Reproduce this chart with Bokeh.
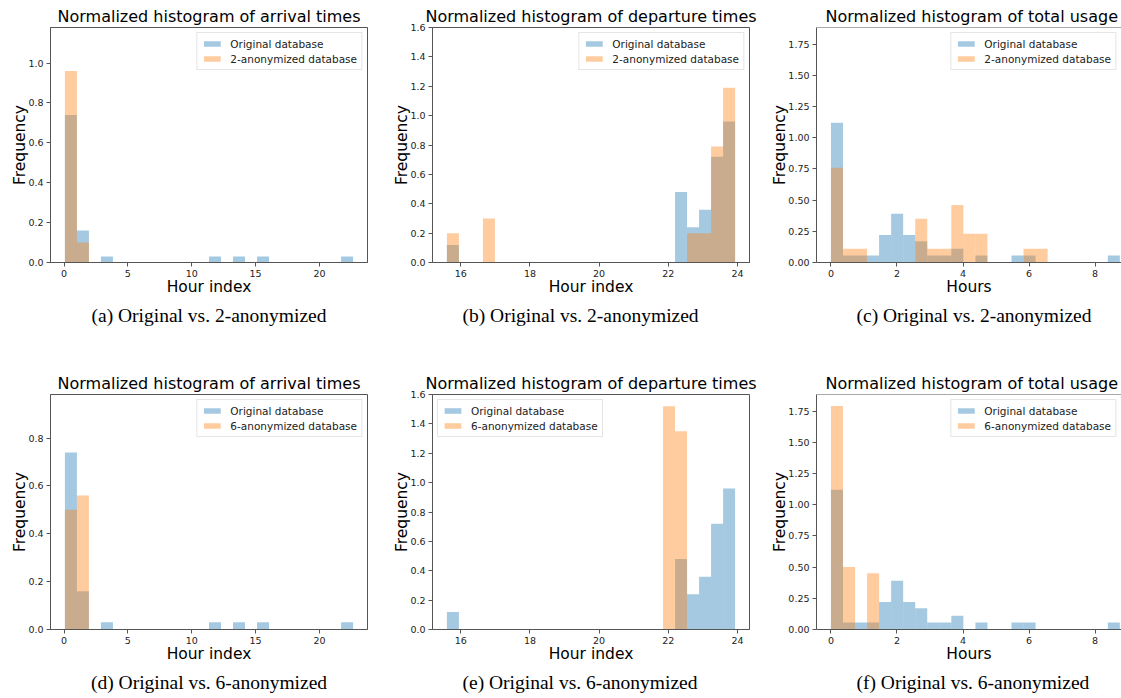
import numpy as np
from bokeh.plotting import figure
from bokeh.layouts import row, column
from bokeh.models import (FixedTicker, PrintfTickFormatter, Title, Legend,
                          LegendItem, Range1d, Span, ColumnDataSource)
from bokeh.embed import file_html
from bokeh.resources import INLINE

# ---------------- data ----------------
N_BINS = 24
arrival_bin_range = (0.07, 22.63)
departure_bin_range = (15.6, 23.93)
usage_bin_range = (0.0, 8.75)

arrival_orig = [0.74, 0.16, 0, 0.03, 0, 0, 0, 0, 0, 0, 0, 0,
                0.03, 0, 0.03, 0, 0.03, 0, 0, 0, 0, 0, 0, 0.03]
arrival_anon2 = [0.96, 0.10, 0, 0, 0, 0, 0, 0, 0, 0, 0, 0,
                 0, 0, 0, 0, 0, 0, 0, 0, 0, 0, 0, 0]
arrival_anon6 = [0.50, 0.56, 0, 0, 0, 0, 0, 0, 0, 0, 0, 0,
                 0, 0, 0, 0, 0, 0, 0, 0, 0, 0, 0, 0]

departure_orig = [0.12, 0, 0, 0, 0, 0, 0, 0, 0, 0, 0, 0,
                  0, 0, 0, 0, 0, 0, 0, 0.48, 0.24, 0.36, 0.72, 0.96]
departure_anon2 = [0.20, 0, 0, 0.30, 0, 0, 0, 0, 0, 0, 0, 0,
                   0, 0, 0, 0, 0, 0, 0, 0, 0.20, 0.20, 0.79, 1.19]
departure_anon6 = [0, 0, 0, 0, 0, 0, 0, 0, 0, 0, 0, 0,
                   0, 0, 0, 0, 0, 0, 1.52, 1.35, 0, 0, 0, 0]

usage_orig = [1.12, 0.056, 0.056, 0.056, 0.22, 0.39, 0.22, 0.17, 0.056, 0.056, 0.11, 0,
              0.056, 0, 0, 0.056, 0.056, 0, 0, 0, 0, 0, 0, 0.056]
usage_anon2 = [0.76, 0.11, 0.11, 0, 0, 0, 0, 0.35, 0.11, 0.11, 0.46, 0.23,
               0.23, 0, 0, 0, 0.11, 0.11, 0, 0, 0, 0, 0, 0]
usage_anon6 = [1.79, 0.50, 0, 0.45, 0, 0, 0, 0, 0, 0, 0, 0,
               0, 0, 0, 0, 0, 0, 0, 0, 0, 0, 0, 0]

arrival_xticks = [0, 5, 10, 15, 20]
departure_xticks = [16, 18, 20, 22, 24]
usage_xticks = [0, 2, 4, 6, 8]

titles = {"arr": "Normalized histogram of arrival times",
          "dep": "Normalized histogram of departure times",
          "use": "Normalized histogram of total usage"}
captions = ["(a) Original vs. 2-anonymized", "(b) Original vs. 2-anonymized",
            "(c) Original vs. 2-anonymized", "(d) Original vs. 6-anonymized",
            "(e) Original vs. 6-anonymized", "(f) Original vs. 6-anonymized"]

# ---------------- styling ----------------
BLUE = "#1f77b4"
ORANGE = "#ff7f0e"
AX = "#555555"
SANS = "DejaVu Sans"
SERIF = "Liberation Serif"


def panel(bin_range, orig, anon, anon_label, title, xlabel, caption,
          x_range, y_range, xticks, yticks, yfmt, width, height,
          b_top, b_bottom, b_right, legend_loc, open_right=False,
          title_offset=None, caption_offset=None):
    edges = np.linspace(bin_range[0], bin_range[1], N_BINS + 1)
    p = figure(width=width, height=height, output_backend="svg",
               toolbar_location=None,
               x_range=Range1d(*x_range), y_range=Range1d(*y_range),
               min_border_left=50, min_border_right=b_right,
               min_border_top=b_top, min_border_bottom=b_bottom)
    p.background_fill_color = "white"
    p.border_fill_color = "white"
    p.xgrid.grid_line_color = None
    p.ygrid.grid_line_color = None

    s1 = ColumnDataSource(dict(left=edges[:-1], right=edges[1:], top=orig))
    s2 = ColumnDataSource(dict(left=edges[:-1], right=edges[1:], top=anon))
    r1 = p.quad(left="left", right="right", top="top", bottom=0, source=s1,
                fill_color=BLUE, fill_alpha=0.4, line_color=None)
    r2 = p.quad(left="left", right="right", top="top", bottom=0, source=s2,
                fill_color=ORANGE, fill_alpha=0.4, line_color=None)

    # title
    p.title.text = title
    p.title.text_font = SANS
    p.title.text_font_size = "16px"
    p.title.text_font_style = "normal"
    p.title.text_color = "black"
    p.title.standoff = 4
    if title_offset is None:
        p.title.align = "center"
    else:
        p.title.align = "left"
        p.title.offset = title_offset

    # axes
    p.xaxis.ticker = FixedTicker(ticks=xticks)
    p.yaxis.ticker = FixedTicker(ticks=yticks)
    p.xaxis.formatter = PrintfTickFormatter(format="%d")
    p.yaxis.formatter = PrintfTickFormatter(format=yfmt)
    p.xaxis.axis_label = xlabel
    p.yaxis.axis_label = "Frequency"
    for ax in (p.xaxis, p.yaxis):
        ax.axis_line_color = AX
        ax.axis_line_width = 1
        ax.major_tick_line_color = AX
        ax.major_tick_out = 4
        ax.major_tick_in = 0
        ax.minor_tick_out = 0
        ax.minor_tick_in = 0
        ax.major_label_standoff = 3
        ax.major_label_text_font = SANS
        ax.major_label_text_font_size = "9.5px"
        ax.major_label_text_color = "#222222"
        ax.axis_label_text_font = SANS
        ax.axis_label_text_font_size = "15.5px"
        ax.axis_label_text_font_style = "normal"
        ax.axis_label_text_color = "black"
    p.xaxis.axis_label_standoff = -2
    p.yaxis.axis_label_standoff = -4

    if open_right:
        p.outline_line_color = None
        p.add_layout(Span(location=y_range[1], dimension="width",
                          line_color=AX, line_width=1))
    else:
        p.outline_line_color = AX
        p.outline_line_width = 1
        p.outline_line_alpha = 1

    # caption below
    cap = Title(text=caption, text_font=SERIF, text_font_size="19.5px",
                text_font_style="normal", text_color="black", standoff=8)
    if caption_offset is None:
        cap.align = "center"
    else:
        cap.align = "left"
        cap.offset = caption_offset
    p.add_layout(cap, "below")

    legend = Legend(items=[LegendItem(label="Original database", renderers=[r1]),
                           LegendItem(label=anon_label, renderers=[r2])],
                    location=legend_loc)
    legend.label_text_font = SANS
    legend.label_text_font_size = "10.5px"
    legend.label_text_color = "#222222"
    legend.glyph_width = 21
    legend.glyph_height = 7
    legend.label_height = 13
    legend.label_standoff = 8
    legend.spacing = 2
    legend.padding = 4
    legend.margin = 5
    legend.border_line_color = "#cccccc"
    legend.border_line_width = 1
    legend.background_fill_color = "white"
    legend.background_fill_alpha = 0.8
    p.add_layout(legend)
    return p


# horizontal ranges as matplotlib's 5 % autoscale margins
def mrange(r):
    m = 0.05 * (r[1] - r[0])
    return (r[0] - m, r[1] + m)


arr_x = mrange(arrival_bin_range)
dep_x = mrange(departure_bin_range)
use_x = (mrange(usage_bin_range)[0], 8.80)

W = (382, 384, 355)
H1, H2 = 360, 338
T1, B1 = 27, 98
T2, B2 = 34, 69

pa = panel(arrival_bin_range, arrival_orig, arrival_anon2, "2-anonymized database",
           titles["arr"], "Hour index", captions[0], arr_x, (0, 1.178),
           arrival_xticks, [0, 0.2, 0.4, 0.6, 0.8, 1.0], "%.1f",
           W[0], H1, T1, B1, W[0] - 50 - 317, "top_right")
pb = panel(departure_bin_range, departure_orig, departure_anon2, "2-anonymized database",
           titles["dep"], "Hour index", captions[1], dep_x, (0, 1.6),
           departure_xticks, [0, 0.2, 0.4, 0.6, 0.8, 1.0, 1.2, 1.4, 1.6], "%.1f",
           W[1], H1, T1, B1, W[1] - 50 - 317, "top_right", caption_offset=30)
pc = panel(usage_bin_range, usage_orig, usage_anon2, "2-anonymized database",
           titles["use"], "Hours", captions[2], use_x, (0, 1.883),
           usage_xticks, [0, 0.25, 0.5, 0.75, 1.0, 1.25, 1.5, 1.75], "%.2f",
           W[2], H1, T1, B1, 0, "top_right", open_right=True,
           title_offset=9, caption_offset=40)

pd_ = panel(arrival_bin_range, arrival_orig, arrival_anon6, "6-anonymized database",
            titles["arr"], "Hour index", captions[3], arr_x, (0, 0.982),
            arrival_xticks, [0, 0.2, 0.4, 0.6, 0.8], "%.1f",
            W[0], H2, T2, B2, W[0] - 50 - 317, "top_right")
pe = panel(departure_bin_range, departure_orig, departure_anon6, "6-anonymized database",
           titles["dep"], "Hour index", captions[4], dep_x, (0, 1.6),
           departure_xticks, [0, 0.2, 0.4, 0.6, 0.8, 1.0, 1.2, 1.4, 1.6], "%.1f",
           W[1], H2, T2, B2, W[1] - 50 - 317, "top_left", caption_offset=30)
pf = panel(usage_bin_range, usage_orig, usage_anon6, "6-anonymized database",
           titles["use"], "Hours", captions[5], use_x, (0, 1.883),
           usage_xticks, [0, 0.25, 0.5, 0.75, 1.0, 1.25, 1.5, 1.75], "%.2f",
           W[2], H2, T2, B2, 0, "top_right", open_right=True,
           title_offset=9, caption_offset=40)

layout = column(row(pa, pb, pc), row(pd_, pe, pf))

with open("out.html", "w") as f:
    f.write(file_html(layout, INLINE))
